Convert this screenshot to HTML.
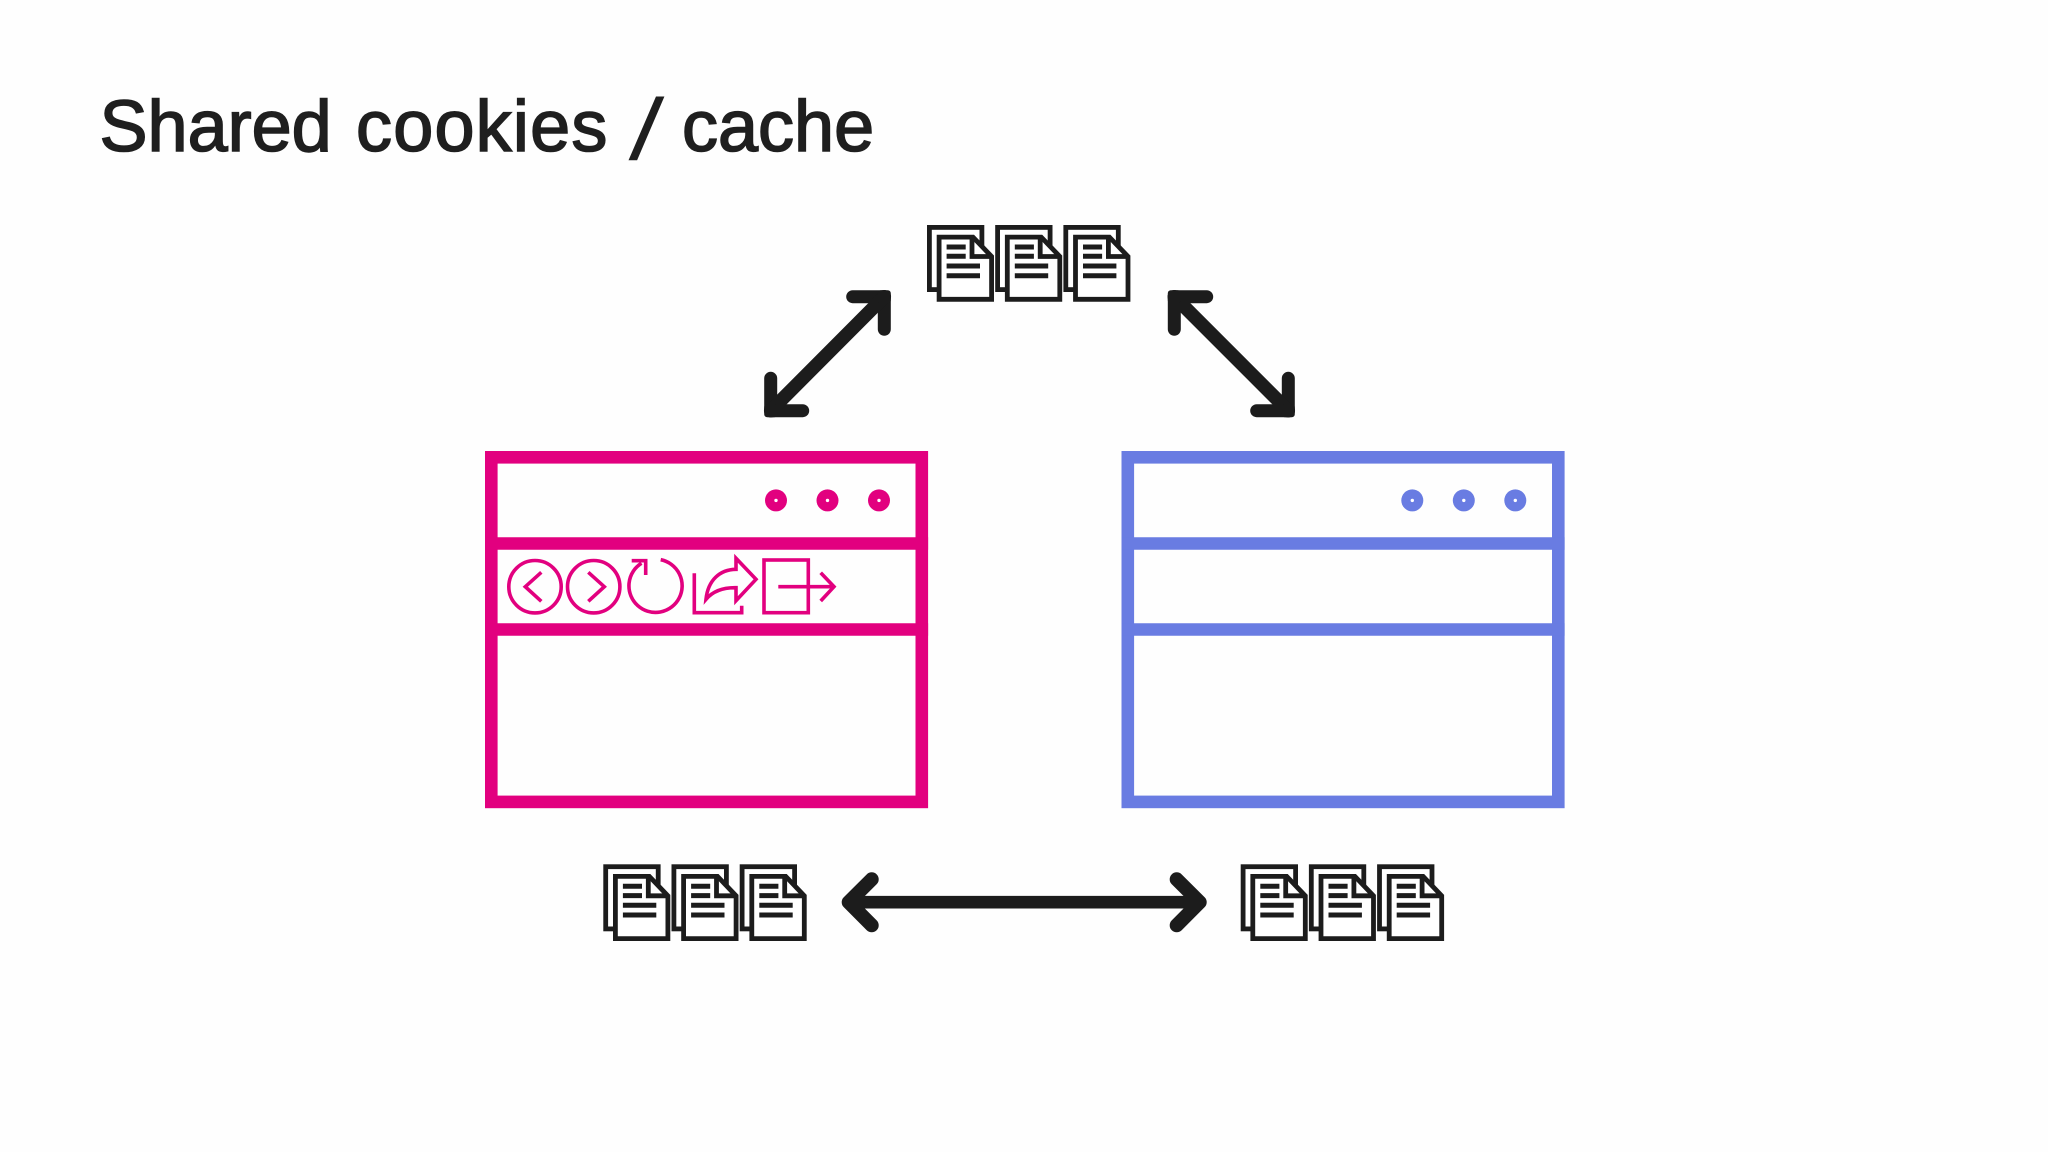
<!DOCTYPE html>
<html><head><meta charset="utf-8"><style>
html,body{margin:0;padding:0;background:#fefefe;width:2048px;height:1152px;overflow:hidden}
svg{display:block}
text{font-family:"Liberation Sans",sans-serif;font-size:72px;fill:#1f1f1f;stroke:#1f1f1f;stroke-width:1.6}
</style></head><body>
<svg width="2048" height="1152" viewBox="0 0 2048 1152" xmlns="http://www.w3.org/2000/svg">
<defs>
<g id="doc" fill="#fff" stroke="#1c1c1c" stroke-width="4.8">
<rect x="2.4" y="2.4" width="52.5" height="62.2"/>
<path d="M12.1 12.1H46L64.6 31.5V74.3H12.1Z"/>
<path d="M45 12.1V31.5H64.6" fill="none"/>
<path d="M19.6 22H38.7M19.6 31.3H38.7M19.6 41H53M19.6 50.7H53" fill="none" stroke-width="5"/>
</g>
<g id="docs"><use href="#doc"/><use href="#doc" x="68.2"/><use href="#doc" x="136.4"/></g>
</defs>
<rect width="2048" height="1152" fill="#fefefe"/>

<text x="99.5" y="151">Shared</text>
<text x="356" y="151" letter-spacing="1.2">cookies</text>
<text transform="translate(630 158.5) skewX(-9) scale(1.17)">/</text>
<text x="682" y="151">cache</text>

<use href="#docs" x="927" y="225"/>
<use href="#docs" x="603.3" y="864.3"/>
<use href="#docs" x="1240.7" y="864.3"/>

<g fill="none" stroke="#1c1c1c" stroke-linecap="round" stroke-linejoin="round">
<path stroke-width="13" d="M852.7 296.7H884.3V329.3M770.7 378.3V410.7H802.7"/>
<path stroke-width="13.5" d="M884.3 296.7L770.7 410.7"/>
<path stroke-width="13" d="M1206.7 296.7H1174.3V329.3M1288.3 378.3V410.7H1256.7"/>
<path stroke-width="13.5" d="M1174.3 296.7L1288.3 410.7"/>
<path stroke-width="14" d="M871.7 879.3L848.7 902.2L871.7 925.3M1176.7 879.3L1199.7 902.2L1176.7 925.3"/>
<path stroke-width="12.6" d="M848.7 902.2H1199.7"/>
</g>
<g fill="#1c1c1c">
<rect x="877.8" y="290.2" width="13" height="13" rx="3"/>
<rect x="764.2" y="404.2" width="13" height="13" rx="3"/>
<rect x="1167.8" y="290.2" width="13" height="13" rx="3"/>
<rect x="1281.8" y="404.2" width="13" height="13" rx="3"/>
</g>

<g fill="none" stroke="#e2007f" stroke-width="12.6">
<rect x="491.3" y="457.3" width="430.5" height="344.6"/>
<path d="M485 543.5H928.1M485 629.5H928.1"/>
</g>
<g fill="#e2007f">
<circle cx="776" cy="500.4" r="11"/><circle cx="827.5" cy="500.4" r="11"/><circle cx="879" cy="500.4" r="11"/>
</g>
<g fill="#fff"><circle cx="776" cy="500.4" r="1.7"/><circle cx="827.5" cy="500.4" r="1.7"/><circle cx="879" cy="500.4" r="1.7"/></g>

<g fill="none" stroke="#e2007f" stroke-width="3.6">
<circle cx="535" cy="586.7" r="26.2"/>
<path d="M541.3 572.3L525.3 586.7L541.3 601.3"/>
<circle cx="593.7" cy="586.7" r="26.2"/>
<path d="M588.3 572.3L604.3 586.7L588.3 601.3"/>
<path d="M660.7 559.7A26.6 26.6 0 1 1 641.5 563.2"/>
<path d="M631.7 560.7H645.7V575"/>
<path d="M694.3 573.3V612.7H741.7V605.7"/>
<path d="M706 599.3C708 580 720 569.5 736 569.3V558.3L756 579.3L736 600.7V587.7C724 587.5 713 591 706 599.3Z"/>
<rect x="764" y="560" width="44.3" height="52.7"/>
<path d="M778.3 586.7H834M820.7 572.7L834 586.7L820.7 601"/>
</g>

<g fill="none" stroke="#697ce2" stroke-width="12.6">
<rect x="1127.8" y="457.3" width="430.5" height="344.6"/>
<path d="M1121.5 543.5H1564.6M1121.5 629.5H1564.6"/>
</g>
<g fill="#697ce2">
<circle cx="1412.3" cy="500.4" r="11"/><circle cx="1463.8" cy="500.4" r="11"/><circle cx="1515.3" cy="500.4" r="11"/>
</g>
<g fill="#fff"><circle cx="1412.3" cy="500.4" r="1.7"/><circle cx="1463.8" cy="500.4" r="1.7"/><circle cx="1515.3" cy="500.4" r="1.7"/></g>
</svg>
</body></html>
